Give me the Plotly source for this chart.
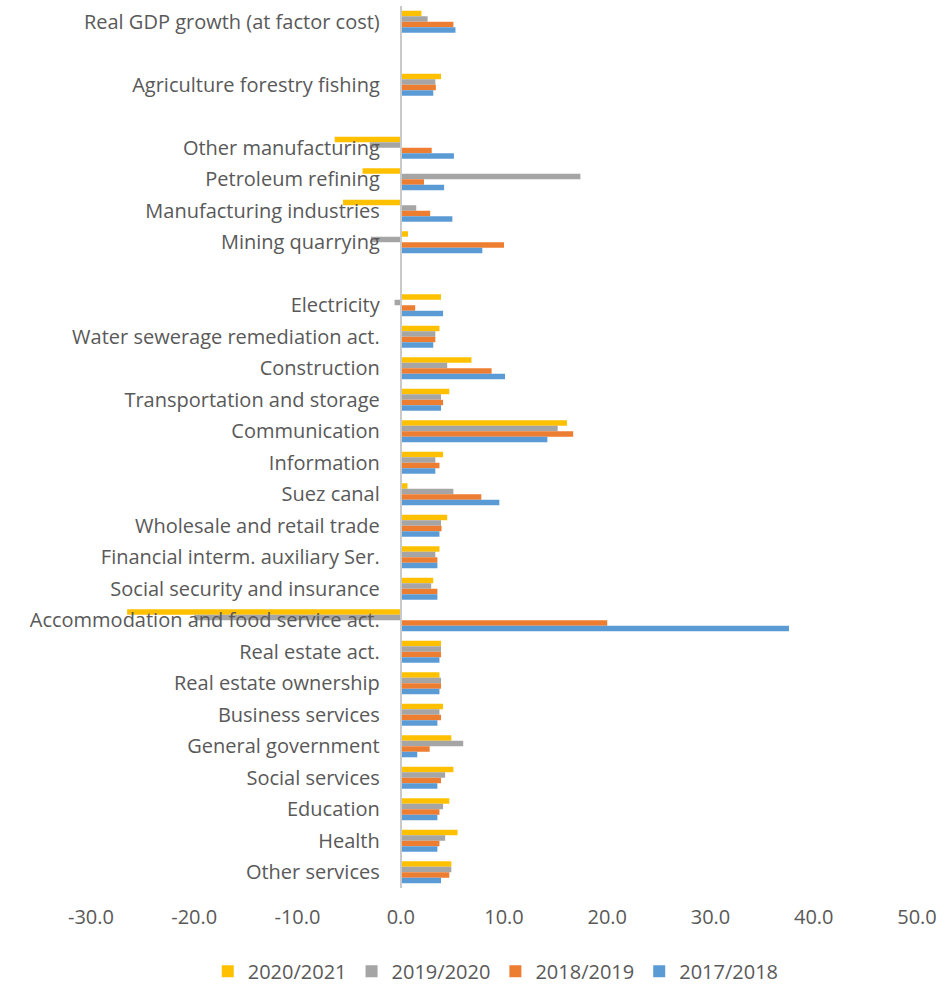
import plotly.graph_objects as go

categories = [
    "Real GDP growth (at factor cost)", " ",
    "Agriculture forestry fishing", "  ",
    "Other manufacturing", "Petroleum refining", "Manufacturing industries", "Mining quarrying", "   ",
    "Electricity", "Water sewerage remediation act.", "Construction", "Transportation and storage",
    "Communication", "Information", "Suez canal", "Wholesale and retail trade",
    "Financial interm. auxiliary Ser.", "Social security and insurance",
    "Accommodation and food service act.", "Real estate act.", "Real estate ownership",
    "Business services", "General government", "Social services", "Education", "Health",
    "Other services",
]

v_2020_2021 = [2.0, None, 3.9, None, -6.4, -3.7, -5.6, 0.7, None,
               3.9, 3.75, 6.85, 4.7, 16.1, 4.1, 0.65, 4.5, 3.75, 3.15,
               -26.5, 3.9, 3.75, 4.1, 4.9, 5.1, 4.7, 5.5, 4.9]
v_2019_2020 = [2.6, None, 3.35, None, -3.0, 17.4, 1.5, -2.9, None,
               -0.6, 3.35, 4.5, 3.9, 15.2, 3.35, 5.1, 3.9, 3.35, 2.95,
               -20.0, 3.9, 3.9, 3.75, 6.05, 4.3, 4.1, 4.3, 4.9]
v_2018_2019 = [5.1, None, 3.4, None, 3.0, 2.25, 2.85, 10.0, None,
               1.4, 3.35, 8.8, 4.1, 16.7, 3.75, 7.8, 3.95, 3.55, 3.55,
               20.0, 3.9, 3.9, 3.9, 2.8, 3.9, 3.75, 3.75, 4.7]
v_2017_2018 = [5.3, None, 3.15, None, 5.15, 4.2, 5.0, 7.9, None,
               4.1, 3.15, 10.1, 3.9, 14.2, 3.35, 9.55, 3.75, 3.55, 3.55,
               37.6, 3.75, 3.75, 3.55, 1.6, 3.55, 3.55, 3.55, 3.9]

series = [
    ("2020/2021", v_2020_2021, "#FFC000"),
    ("2019/2020", v_2019_2020, "#A5A5A5"),
    ("2018/2019", v_2018_2019, "#ED7D31"),
    ("2017/2018", v_2017_2018, "#5B9BD5"),
]

x_ticks = [-30, -20, -10, 0, 10, 20, 30, 40, 50]

FONT = "Open Sans"
TXT = "#595959"

fig = go.Figure()
for name, vals, color in series:
    fig.add_trace(go.Bar(
        y=categories, x=vals, name=name, orientation="h",
        marker=dict(color=color, line=dict(width=0)),
    ))

fig.update_layout(
    barmode="group",
    bargap=0.3,
    bargroupgap=0,
    width=945, height=984,
    margin=dict(l=91, r=28, t=6, b=96),
    paper_bgcolor="white", plot_bgcolor="white",
    font=dict(family=FONT, size=20, color=TXT),
    showlegend=True,
    legend=dict(
        orientation="h", x=0.49, xanchor="center",
        yref="container", y=0.013, yanchor="middle",
        font=dict(size=20, color=TXT),
        itemwidth=30, tracegroupgap=0,
    ),
    xaxis=dict(
        range=[-30, 50], tickvals=x_ticks,
        ticktext=[f"{t:.1f}" for t in x_ticks],
        showgrid=False, zeroline=False, showline=False,
        ticks="", ticklabelstandoff=15,
        fixedrange=True,
    ),
    yaxis=dict(
        type="category", categoryorder="array", categoryarray=categories,
        autorange="reversed",
        anchor="free", position=0.375,
        showline=True, linecolor="#c9c9c9", linewidth=2,
        showgrid=False, zeroline=False,
        ticks="", ticklabelstandoff=16,
        layer="above traces",
    ),
)

fig.write_html("out.html")
